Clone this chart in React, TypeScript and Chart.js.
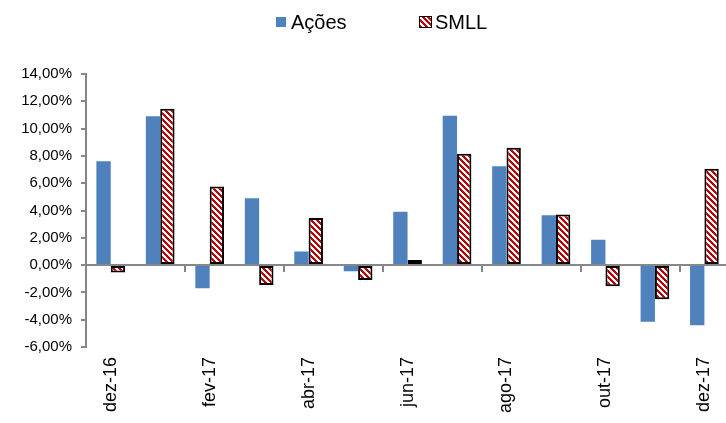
import React, { useEffect, useRef } from "react";
import { Chart, registerables } from "chart.js";

Chart.register(...registerables);

const categories = [
  "dez-16", "jan-17", "fev-17", "mar-17", "abr-17", "mai-17", "jun-17",
  "jul-17", "ago-17", "set-17", "out-17", "nov-17", "dez-17",
];
const acoes = [7.6, 10.9, -1.7, 4.9, 1.0, -0.45, 3.9, 10.95, 7.25, 3.65, 1.85, -4.15, -4.4];
const smll = [-0.55, 11.45, 5.75, -1.45, 3.45, -1.1, 0.37, 8.15, 8.6, 3.7, -1.55, -2.5, 7.05];
const seriesNames = ["Ações", "SMLL"];
const yMin = -6;
const yMax = 14;
const yStep = 2;

const FONT = "'Liberation Sans', Arial, Helvetica, sans-serif";
const GRAY = "#878787";
const BLUE = "#4F81BD";
const RED = "#C00000";

function makeStripePattern(): CanvasPattern | string {
  const n = 6;
  const c = document.createElement("canvas");
  c.width = n;
  c.height = n;
  const g = c.getContext("2d");
  if (!g) return RED;
  const img = g.createImageData(n, n);
  for (let y = 0; y < n; y++) {
    for (let x = 0; x < n; x++) {
      const k = (((x - y) % n) + n) % n;
      const isRed = k < 3;
      const o = (y * n + x) * 4;
      img.data[o] = isRed ? 192 : 255;
      img.data[o + 1] = isRed ? 0 : 255;
      img.data[o + 2] = isRed ? 0 : 255;
      img.data[o + 3] = 255;
    }
  }
  g.putImageData(img, 0, 0);
  return g.createPattern(c, "repeat") || RED;
}

const fmtPct = (v: number) => `${Number(v).toFixed(2).replace(".", ",")}%`;

export default function App() {
  const ref = useRef<HTMLCanvasElement>(null);

  useEffect(() => {
    if (!ref.current) return;
    Chart.defaults.font.family = FONT;
    const pattern = makeStripePattern();
    const chart = new Chart(ref.current, {
      type: "bar",
      data: {
        labels: categories,
        datasets: [
          {
            label: seriesNames[0],
            data: acoes,
            backgroundColor: BLUE,
            borderWidth: 0,
          },
          {
            label: seriesNames[1],
            data: smll,
            backgroundColor: pattern as any,
            borderColor: "#000",
            borderWidth: 2,
            borderSkipped: false,
          },
        ],
      },
      options: {
        responsive: false,
        animation: false,
        layout: { padding: { top: 74, left: 0, right: 0, bottom: 0 } },
        plugins: {
          legend: { display: false },
          tooltip: { enabled: false },
        },
        datasets: {
          bar: { categoryPercentage: 0.58, barPercentage: 1 },
        },
        scales: {
          x: {
            type: "category",
            position: "bottom",
            offset: true,
            grid: { display: false, drawTicks: false },
            border: { display: false },
            ticks: {
              autoSkip: false,
              maxRotation: 90,
              minRotation: 90,
              padding: 10,
              color: "#000",
              font: { size: 18, family: FONT },
              callback: (_v: any, i: number) => (i % 2 === 0 ? categories[i] : ""),
            },
            afterFit: (s: any) => {
              s.height = 76;
            },
          },
          x2: {
            type: "category",
            position: { y: 0 } as any,
            offset: true,
            grid: {
              offset: true,
              drawOnChartArea: false,
              drawTicks: true,
              tickLength: 6,
              lineWidth: 2,
              color: (c: any) => (c.index % 2 === 0 ? GRAY : "rgba(0,0,0,0)"),
            },
            border: { display: true, color: GRAY, width: 2 },
            ticks: { display: false },
          },
          y: {
            type: "linear",
            position: "left",
            min: yMin,
            max: yMax,
            ticks: {
              stepSize: yStep,
              padding: 9,
              color: "#000",
              font: { size: 15, family: FONT },
              callback: (v: any) => fmtPct(Number(v)),
            },
            grid: {
              drawOnChartArea: false,
              drawTicks: true,
              tickLength: 5,
              lineWidth: 2,
              color: GRAY,
            },
            border: { display: true, color: GRAY, width: 2 },
            afterFit: (s: any) => {
              s.width = 86;
            },
          },
        } as any,
      },
    });
    return () => chart.destroy();
  }, []);

  const legendText: React.CSSProperties = {
    position: "absolute",
    top: 12,
    font: `20px ${FONT}`,
    lineHeight: "20px",
    color: "#000",
    whiteSpace: "nowrap",
  };

  return (
    <div
      style={{
        position: "fixed",
        left: 0,
        top: 0,
        width: 726,
        height: 423,
        overflow: "hidden",
        background: "#fff",
      }}
    >
      <canvas ref={ref} width={736} height={423} style={{ position: "absolute", left: 0, top: 0 }} />
      <span
        style={{ position: "absolute", left: 276, top: 17, width: 10, height: 10, background: BLUE }}
      />
      <span style={{ ...legendText, left: 291 }}>{seriesNames[0]}</span>
      <span
        style={{
          position: "absolute",
          left: 419,
          top: 16,
          width: 13,
          height: 12,
          boxSizing: "border-box",
          border: "1.5px solid #000",
          background: `repeating-linear-gradient(45deg, ${RED} 0px, ${RED} 2px, #fff 2px, #fff 4px)`,
        }}
      />
      <span style={{ ...legendText, left: 435 }}>{seriesNames[1]}</span>
    </div>
  );
}
